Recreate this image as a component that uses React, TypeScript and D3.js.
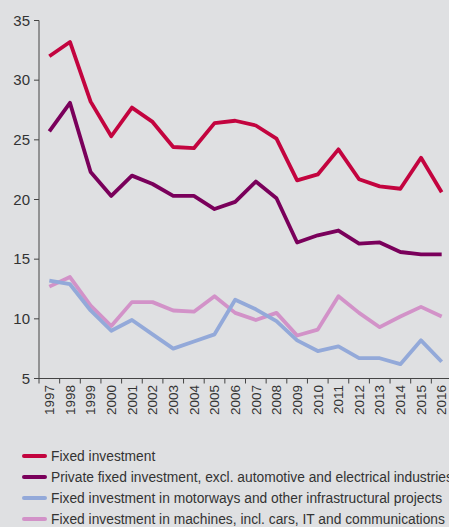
import React from "react";
import * as d3 from "d3";

const years = ["1997","1998","1999","2000","2001","2002","2003","2004","2005","2006","2007","2008","2009","2010","2011","2012","2013","2014","2015","2016"];
const fixedInvestment = [32.0,33.2,28.2,25.3,27.7,26.5,24.4,24.3,26.4,26.6,26.2,25.1,21.6,22.1,24.2,21.7,21.1,20.9,23.5,20.6];
const privateFixed = [25.7,28.1,22.3,20.3,22.0,21.3,20.3,20.3,19.2,19.8,21.5,20.1,16.4,17.0,17.4,16.3,16.4,15.6,15.4,15.4];
const infrastructure = [13.2,12.9,10.7,9.0,9.9,8.7,7.5,8.1,8.7,11.6,10.8,9.8,8.2,7.3,7.7,6.7,6.7,6.2,8.2,6.4];
const machines = [12.7,13.5,11.1,9.4,11.4,11.4,10.7,10.6,11.9,10.5,9.9,10.5,8.6,9.1,11.9,10.5,9.3,10.2,11.0,10.2];
const yTicks = [5,10,15,20,25,30,35];

const seriesNames = [
  "Fixed investment",
  "Private fixed investment, excl. automotive and electrical industries",
  "Fixed investment in motorways and other infrastructural projects",
  "Fixed investment in machines, incl. cars, IT and communications",
];
const seriesData = [fixedInvestment, privateFixed, infrastructure, machines];
const colors = ["#c3043f", "#7a005b", "#93a9d9", "#d292c8"];

const W = 449, H = 527;
const font = "'Liberation Sans', Arial, sans-serif";

export default function App() {
  const x = d3.scaleBand<string>().domain(years).range([39, 39 + 20 * 20.65]).padding(0);
  const y = d3.scaleLinear().domain([5, 35]).range([378.5, 20.5]);
  const line = d3.line<number>()
    .x((_, i) => (x(years[i]) as number) + x.bandwidth() / 2)
    .y((d) => y(d));
  const order = [3, 2, 1, 0];
  return (
    <svg width={W} height={H} style={{ position: "absolute", left: 0, top: 0, background: "#dfe0e2" }} fontFamily={font}>
      <rect x={0} y={0} width={W} height={H} fill="#dfe0e2" />
      {/* y axis */}
      <line x1={39} x2={39} y1={y(35)} y2={y(5)} stroke="#444" strokeWidth={1} />
      {yTicks.map((t) => (
        <g key={t}>
          <line x1={34} x2={39} y1={y(t)} y2={y(t)} stroke="#444" strokeWidth={1} />
          <text x={30} y={y(t)} dy="0.35em" textAnchor="end" fontSize={15} fill="#333">{t}</text>
        </g>
      ))}
      {/* x axis */}
      <line x1={39} x2={W} y1={y(5)} y2={y(5)} stroke="#444" strokeWidth={1} />
      {years.map((yr) => (
        <g key={yr}>
          <line x1={(x(yr) as number)} x2={(x(yr) as number)} y1={y(5)} y2={y(5) + 5} stroke="#444" strokeWidth={1} />
          <text
            transform={`translate(${(x(yr) as number) + x.bandwidth() / 2},${385}) rotate(-90)`}
            dy="0.35em" textAnchor="end" fontSize={13.5} fill="#333"
          >{yr}</text>
        </g>
      ))}
      {order.map((k) => (
        <path key={k} d={line(seriesData[k]) || ""} fill="none" stroke={colors[k]} strokeWidth={3.8} strokeLinejoin="round" />
      ))}
      {/* legend */}
      {seriesNames.map((name, i) => (
        <g key={name} transform={`translate(0,${456 + i * 21})`}>
          <line x1={24} x2={45} y1={0} y2={0} stroke={colors[i]} strokeWidth={4} strokeLinecap="round" />
          <text x={51} y={0} dy="0.35em" fontSize={13.8} fill="#333">{name}</text>
        </g>
      ))}
    </svg>
  );
}
